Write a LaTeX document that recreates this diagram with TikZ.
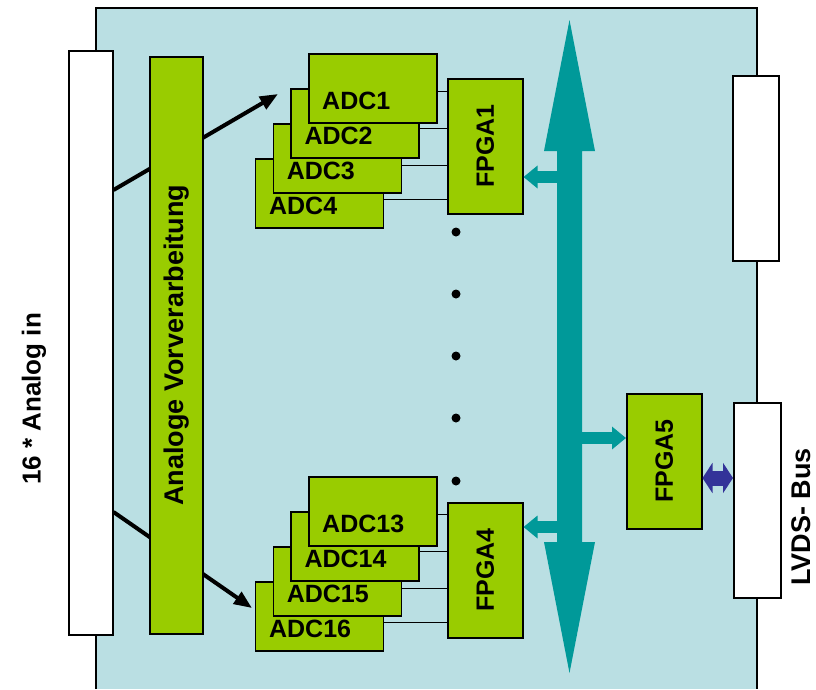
\documentclass[tikz,border=0pt]{standalone}
\usepackage{fontspec}
\setmainfont{Liberation Sans}
\usetikzlibrary{arrows.meta}
\definecolor{board}{RGB}{186,223,227}
\definecolor{chip}{RGB}{153,204,0}
\definecolor{busteal}{RGB}{0,153,153}
\definecolor{lvdsblue}{RGB}{51,51,153}
\tikzset{
  box/.style={draw, line width=1.5pt, inner sep=0pt, anchor=north west},
  adc/.style={box, fill=chip, minimum width=128pt, minimum height=69pt},
  fpga/.style={box, fill=chip, minimum width=75pt, minimum height=135pt},
  conn/.style={box, fill=white, minimum width=46pt},
  txt/.style={font=\bfseries\fontsize{25}{30}\selectfont, inner sep=0pt},
  vtxt/.style={txt, rotate=90},
  bigtxt/.style={vtxt, font=\bfseries\fontsize{27}{32}\selectfont},
  sig/.style={line width=4pt, -{Triangle[length=18pt,width=14pt]}},
  wire/.style={line width=1.2pt},
  tap/.style={draw=busteal, line width=12pt, -{Triangle[length=14pt,width=22pt]}},
  lvdsarrow/.style={draw=lvdsblue, line width=15pt, {Triangle[length=10pt,width=30pt]}-{Triangle[length=10pt,width=30pt]}},
}
\begin{document}
\begin{tikzpicture}[x=1pt, y=-1pt, >=latex]
\useasboundingbox (0,0) rectangle (816,689);
\fill[board] (96,8) rectangle (757,689);
\draw[line width=1.5pt] (96,689) -- (96,8) -- (757,8) -- (757,689);

\node[conn, minimum width=44pt, minimum height=584pt] (ain) at (68,50) {};
\node[vtxt, font=\bfseries\fontsize{26}{31}\selectfont] at (34,399) {16 * Analog in};

\coordinate (in1) at (278,94);
\coordinate (in16) at (252,608);
\draw[sig] (ain.east |- 0,190) -- (in1);
\draw[sig] (ain.east |- 0,512) -- (in16);

\node[box, fill=chip, minimum width=53pt, minimum height=577pt] (avv) at (149,56) {};
\node[bigtxt] at (avv) {Analoge Vorverarbeitung};

\foreach \k in {4,3,2,1}
{
    \node[adc] (adc\k) at ({308-17.7*(\k-1)},{53+35*(\k-1)}) {};
    \node[txt, anchor=base west] at ([shift={(14,-14)}]adc\k.south west) {ADC\k};
}
\foreach \k/\m in {4/16,3/15,2/14,1/13}
{
    \node[adc] (adc\m) at ({308-17.7*(\k-1)},{476+35*(\k-1)}) {};
    \node[txt, anchor=base west] at ([shift={(14,-14)}]adc\m.south west) {ADC\m};
}

\node[fpga] (fpga1) at (447,78) {};
\node[vtxt] at (fpga1) {FPGA1};
\node[fpga] (fpga4) at (447,502) {};
\node[vtxt] at (fpga4) {FPGA4};
\node[fpga] (fpga5) at (626,393) {};
\node[vtxt] at (fpga5) {FPGA5};

\foreach \k/\d in {1/3,2/5,3/7,4/6}
{
    \draw[wire] ([yshift=-\d]adc\k.east) -- ([yshift=-\d]adc\k.east -| fpga1.west);
}
\foreach \k/\d in {13/3,14/5,15/7,16/6}
{
    \draw[wire] ([yshift=-\d]adc\k.east) -- ([yshift=-\d]adc\k.east -| fpga4.west);
}

\foreach \y in {232,294,356,418,481}
{
    \fill (456,\y) circle (4.5pt);
}

\coordinate (bustop) at (569.5,20);
\coordinate (busbot) at (569.5,673);
\draw[tap] (bustop |- 0,177) -- (fpga1.east |- 0,177);
\draw[tap] (bustop |- 0,527) -- (fpga4.east |- 0,527);
\draw[tap] (bustop |- 0,438) -- (fpga5.west |- 0,438);
\fill[busteal] (bustop) -- ++(25.5,131) -- ++(-13,0) -- ++(0,391) -- ++(13,0)
    -- (busbot) -- ++(-25.5,-131) -- ++(13,0) -- ++(0,-391) -- ++(-13,0) -- cycle;

\node[conn, minimum height=185pt] (slot) at (732,75) {};
\node[conn, minimum width=47pt, minimum height=195pt] (lvds) at (733,402) {};
\node[bigtxt] at (801,517) {LVDS- Bus};

\draw[lvdsarrow] (fpga5.east |- 0,478) -- (lvds.west |- 0,478);

\end{tikzpicture}
\end{document}
